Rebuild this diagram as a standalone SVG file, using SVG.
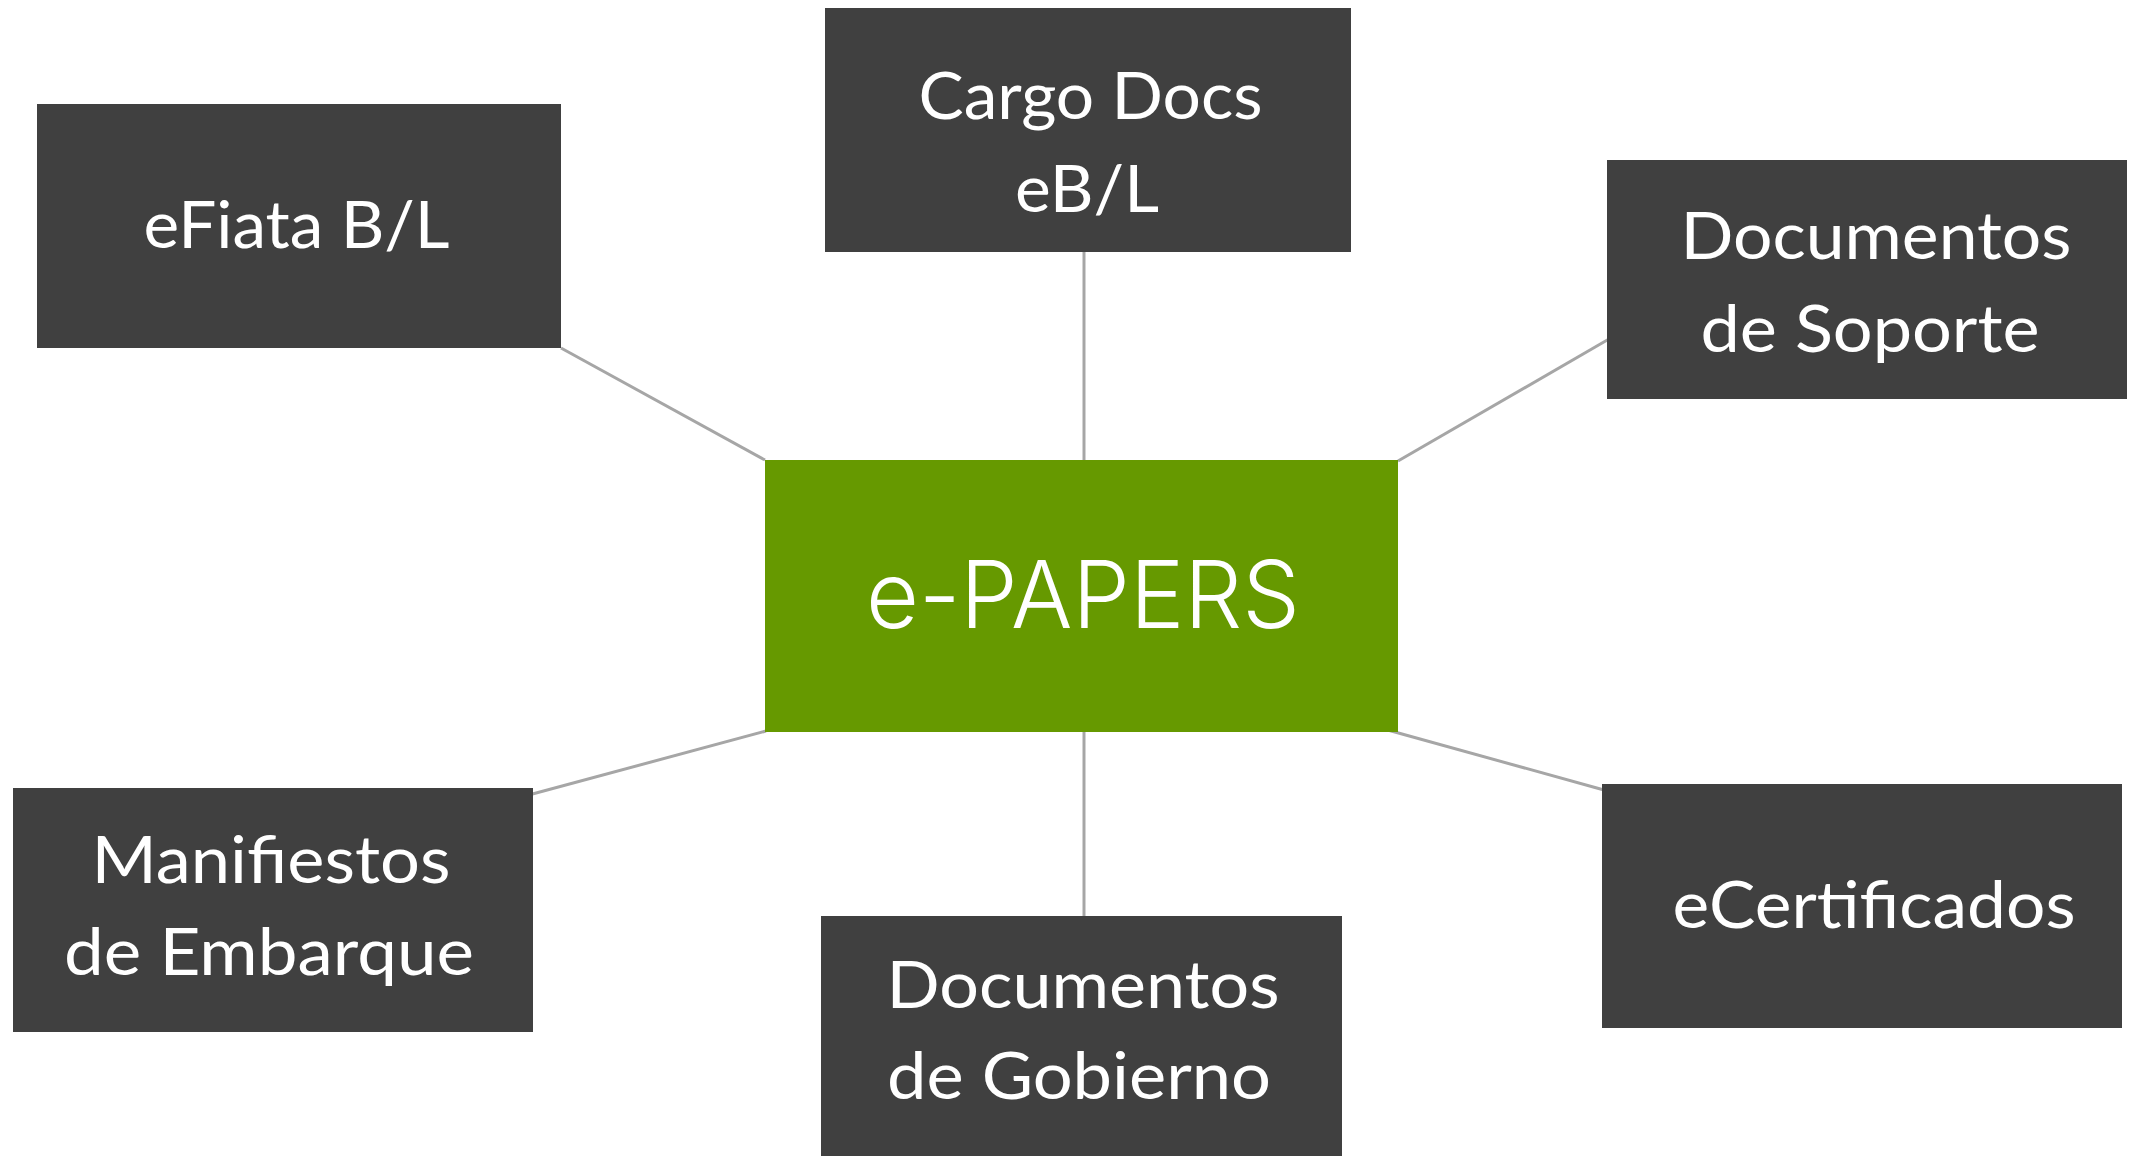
<svg xmlns="http://www.w3.org/2000/svg" width="2136" height="1156" viewBox="0 0 2136 1156">
<style>
.box{fill:#404040}
.hub{fill:#669900}
.lbl{font-family:Lato,"Open Sans","Liberation Sans",sans-serif;font-size:66px;fill:#ffffff;text-anchor:middle}
.hubl{font-family:Inter,"DejaVu Sans","Liberation Sans",sans-serif;font-weight:300;font-size:93px;fill:#ffffff;text-anchor:middle}
.con{stroke:#a6a6a6;stroke-width:3;fill:none}
</style>
<rect width="2136" height="1156" fill="#ffffff"/>
<g id="connectors">
<line class="con" x1="561" y1="348" x2="765" y2="460"/>
<line class="con" x1="1084" y1="252" x2="1084" y2="460"/>
<line class="con" x1="1398" y1="461" x2="1609" y2="339"/>
<line class="con" x1="766" y1="731" x2="525" y2="796"/>
<line class="con" x1="1084" y1="732" x2="1084" y2="916"/>
<line class="con" x1="1384" y1="729" x2="1604" y2="790"/>
</g>
<g id="node-epapers">
<rect class="hub" x="765" y="460" width="633" height="272"/>
<text class="hubl" x="1083" y="628" textLength="434" lengthAdjust="spacingAndGlyphs">e-PAPERS</text>
</g>
<g id="node-efiata">
<rect class="box" x="37" y="104" width="524" height="244"/>
<text class="lbl" x="296.5" y="248" textLength="306" lengthAdjust="spacingAndGlyphs">eFiata B/L</text>
</g>
<g id="node-cargo">
<rect class="box" x="825" y="8" width="526" height="244"/>
<text class="lbl" x="1090.5" y="119" textLength="344" lengthAdjust="spacingAndGlyphs">Cargo Docs</text>
<text class="lbl" x="1087" y="212" textLength="144" lengthAdjust="spacingAndGlyphs">eB/L</text>
</g>
<g id="node-soporte">
<rect class="box" x="1607" y="160" width="520" height="239"/>
<text class="lbl" x="1876" y="259" textLength="391" lengthAdjust="spacingAndGlyphs">Documentos</text>
<text class="lbl" x="1870" y="352" textLength="339" lengthAdjust="spacingAndGlyphs">de Soporte</text>
</g>
<g id="node-manifiestos">
<rect class="box" x="13" y="788" width="520" height="244"/>
<text class="lbl" x="271" y="883" textLength="359" lengthAdjust="spacingAndGlyphs">Manifiestos</text>
<text class="lbl" x="269" y="975" textLength="410" lengthAdjust="spacingAndGlyphs">de Embarque</text>
</g>
<g id="node-gobierno">
<rect class="box" x="821" y="916" width="521" height="244"/>
<text class="lbl" x="1083" y="1008" textLength="393" lengthAdjust="spacingAndGlyphs">Documentos</text>
<text class="lbl" x="1079" y="1099" textLength="384" lengthAdjust="spacingAndGlyphs">de Gobierno</text>
</g>
<g id="node-ecertificados">
<rect class="box" x="1602" y="784" width="520" height="244"/>
<text class="lbl" x="1874" y="928" textLength="403" lengthAdjust="spacingAndGlyphs">eCertificados</text>
</g>
</svg>
